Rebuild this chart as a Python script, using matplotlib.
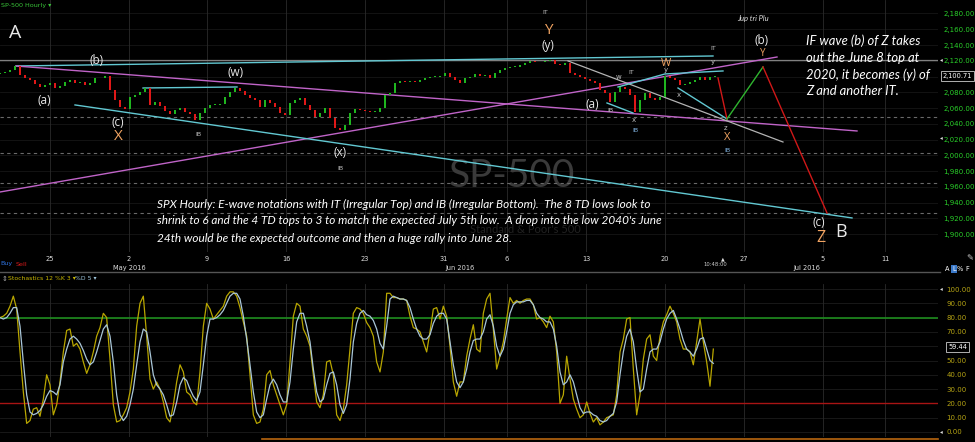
import numpy as np
import matplotlib
matplotlib.use("Agg")
import matplotlib.pyplot as plt
from matplotlib.lines import Line2D
import matplotlib.transforms as mtrans

plt.rcParams['font.family'] = ['DejaVu Sans']

# ---------------- data ----------------
first_open = 2103.0
closes = [2104.5, 2105.8, 2108.3, 2113.4, 2102.0, 2098.2, 2095.7, 2090.6, 2086.8, 2089.3,
          2091.9, 2085.5, 2088.1, 2093.1, 2095.7, 2091.9, 2093.1, 2089.3, 2091.9, 2098.2,
          2098.2, 2100.7, 2083.0, 2070.3, 2061.4, 2058.9, 2074.1, 2076.6, 2080.4, 2085.5,
          2064.0, 2067.8, 2062.7, 2056.4, 2052.5, 2057.6, 2060.2, 2055.1, 2052.5, 2044.9,
          2053.8, 2060.2, 2064.0, 2064.0, 2065.2, 2074.1, 2080.4, 2085.5, 2081.7, 2076.6,
          2072.8, 2070.3, 2061.4, 2070.3, 2066.5, 2061.4, 2053.8, 2051.3, 2066.5, 2070.3,
          2072.8, 2064.0, 2057.6, 2048.7, 2053.8, 2060.2, 2047.5, 2034.8, 2032.3, 2038.6,
          2053.8, 2058.9, 2057.6, 2056.4, 2055.1, 2055.1, 2060.2, 2076.6, 2079.2, 2091.9,
          2094.4, 2093.1, 2094.4, 2093.1, 2095.7, 2098.2, 2099.5, 2099.5, 2100.7, 2104.5,
          2099.5, 2095.7, 2091.9, 2098.2, 2099.5, 2103.3, 2100.7, 2102.0, 2098.2, 2104.5,
          2108.3, 2110.9, 2112.2, 2112.2, 2114.7, 2117.2, 2119.8, 2118.5, 2118.5, 2119.8,
          2121.0, 2116.0, 2114.7, 2117.2, 2104.5, 2102.0, 2099.5, 2096.9, 2094.4, 2091.9,
          2083.0, 2079.2, 2067.8, 2080.4, 2086.8, 2084.2, 2076.6, 2055.1, 2070.3, 2079.2,
          2072.8, 2070.3, 2074.1, 2100.7, 2098.2, 2095.7, 2089.3, 2090.6, 2093.1, 2095.7,
          2099.5, 2095.7, 2099.5, 2100.7]

stoch_k = [80, 81, 83, 88, 95, 86, 56, 28, 6, 8, 16, 17, 11, 23, 40, 33, 12, 19, 35, 56,
           71, 72, 60, 62, 58, 49, 41, 47, 56, 67, 73, 83, 80, 51, 19, 7, 8, 12, 17, 28,
           44, 74, 90, 95, 67, 37, 30, 35, 30, 21, 10, 7, 19, 35, 47, 42, 28, 26, 21, 19,
           42, 74, 90, 86, 79, 82, 85, 88, 95, 98, 98, 95, 87, 77, 67, 40, 12, 6, 7, 16,
           40, 43, 33, 26, 19, 12, 19, 49, 81, 90, 88, 72, 67, 60, 40, 21, 17, 26, 49, 50,
           40, 12, 8, 16, 33, 58, 83, 87, 86, 83,
           76.5, 73, 67, 49, 42, 56, 97, 97, 94, 94, 93, 93, 92, 81, 73, 72, 70, 63, 56, 70,
           86, 87, 79, 88, 81, 60, 35, 25, 35, 35, 53, 65, 75, 58, 56, 83, 93, 97, 72, 44,
           53, 63, 79, 94, 90, 92, 90, 92, 93, 93, 89, 79, 80, 77, 73, 81, 77, 56, 20, 26,
           53, 37, 23, 16, 10, 12, 21, 13, 7, 10, 5, 7, 10, 11, 12, 26, 56, 65, 79, 80,
           44, 12, 26, 51, 65, 68, 53, 50, 67, 77, 82, 88, 83, 77, 65, 58, 58, 56, 47, 63,
           79, 63, 49, 32, 58]

stoch_d = [80, 79, 80, 83, 87, 87, 74, 49, 26, 14, 12, 13, 15, 19, 25, 29, 28, 26, 33, 49,
           58, 65, 67, 65, 62, 57, 51, 47, 49, 56, 64, 72, 75, 67, 49, 26, 12, 8, 11, 19,
           30, 47, 63, 72, 70, 56, 40, 33, 30, 26, 19, 11, 12, 21, 33, 38, 36, 30, 25, 22,
           28, 47, 67, 79, 79, 80, 82, 85, 90, 95, 97, 97, 93, 81, 65, 47, 28, 14, 10, 12,
           23, 33, 37, 33, 26, 21, 21, 35, 58, 77, 83, 83, 74, 63, 44, 28, 21, 23, 33, 41,
           42, 33, 19, 13, 19, 37, 63, 76, 83, 85,
           82, 81, 78, 72, 62, 58, 74, 93, 95, 94, 93, 93, 92, 87, 79, 72, 67, 65, 65, 68,
           76, 81, 83, 83, 79, 63, 47, 35, 31, 35, 44, 56, 64, 65, 65, 70, 79, 82, 74, 60,
           53, 58, 70, 83, 89, 91, 91, 91, 92, 92, 89, 83, 80, 79, 77, 77, 72, 60, 42, 33,
           35, 40, 35, 26, 17, 13, 14, 14, 12, 11, 8, 7, 8, 11, 13, 21, 40, 56, 67, 72,
           63, 44, 28, 30, 44, 56, 58, 58, 63, 72, 79, 83, 85, 79, 72, 64, 58, 56, 53, 58,
           65, 66, 58, 50, 48]

price_ticks = list(range(1900, 2181, 20))
stoch_ticks = list(range(0, 101, 10))
day_labels = ["25", "2", "9", "16", "23", "31", "6", "13", "20", "27", "5", "11"]
month_labels = ["May 2016", "Jun 2016", "Jul 2016"]
pivot_levels = [2048.7, 2003.1, 1965.0, 1926.9]
june8_top = 2121.0
last_price = 2100.71
last_stoch = 59.44

# hand-drawn trend lines (bar index, price)
line_b_x, line_b_y = [3.2, 142.6], [2113.4, 2126.1]
mag_fall_x, mag_fall_y = [3.2, 171.4], [2113.4, 2031.0]
mag_rise_x, mag_rise_y = [0.0, 155.4], [1953.6, 2124.8]
cyan_low_x, cyan_low_y = [15.0, 170.4], [2064.0, 1920.7]
cyan_w_x, cyan_w_y = [28.6, 47.4], [2085.5, 2086.8]
gray_fall_x, gray_fall_y = [113.6, 156.6], [2119.8, 2017.0]
cyan_it_x, cyan_it_y = [123.6, 133.0, 144.6], [2086.8, 2103.3, 2107.1]
cyan_ib_x, cyan_ib_y = [121.4, 126.6], [2066.5, 2053.8]
cyan_xz_x, cyan_xz_y = [135.6, 145.4], [2085.5, 2046.2]
proj_red1_x, proj_red1_y = [143.6, 145.4], [2098.2, 2046.2]
proj_green_x, proj_green_y = [145.4, 152.6], [2046.2, 2112.2]
proj_red2_x, proj_red2_y = [152.6, 165.4], [2112.2, 1927.0]

# ---------------- layout ----------------
W, H = 975, 442
def fx(px): return px / W
def fy(py): return 1 - py / H

day_pos = [10, 25.8, 41.4, 57.2, 73, 88.8, 101.4, 117.2, 133, 148.8, 164.6, 177]
month_pos = [25.8, 92, 161.4]
XMAX = 187.6

fig = plt.figure(figsize=(9.75, 4.42), dpi=100, facecolor='black')

# ---------- main price panel ----------
ax = fig.add_axes([0, fy(252), 938 / W, 252 / H])
ax.set_facecolor('black')
ax.set_xlim(0, XMAX)
ax.set_ylim(1877.5, 2197.1)
for s in ax.spines.values():
    s.set_visible(False)

for p in price_ticks:
    ax.axhline(p, color='#161616', lw=0.6, zorder=0)
for xp in day_pos:
    ax.axvline(xp, color='#2a2a2a', lw=0.6, zorder=0)
for p in pivot_levels:
    ax.axhline(p, color='#6a6a6a', lw=0.8, ls=(0, (3, 3)), zorder=1)

# watermark
ax.text(fx(512), fy(176), 'SP-500', transform=fig.transFigure, ha='center', va='center',
        fontsize=28, color='#3a3a3a', family='Lato', zorder=0.5)
ax.text(fx(525), fy(229), "Standard & Poor's 500", transform=fig.transFigure, ha='center',
        va='center', fontsize=8, color='#222222', family='Lato', zorder=0.5)

# candles
c = np.array(closes)
o = np.array([first_open] + closes[:-1])
xb = np.arange(len(c))
h = c - o
h = np.where(np.abs(h) < 0.6, 0.6, h)
up = c >= o
ax.bar(xb[up], h[up], bottom=o[up], width=0.58, color='#1fb51f', lw=0, zorder=3)
ax.bar(xb[~up], h[~up], bottom=o[~up], width=0.58, color='#e01818', lw=0, zorder=3)

# trend lines
ax.axhline(june8_top, color='#808080', lw=0.9, zorder=2)
cyan = '#62c8d2'
mag = '#c064c8'
ax.plot(line_b_x, line_b_y, color=cyan, lw=1.0, zorder=2)
ax.plot(mag_fall_x, mag_fall_y, color=mag, lw=1.0, zorder=2)
ax.plot(mag_rise_x, mag_rise_y, color=mag, lw=1.0, zorder=2)
ax.plot(cyan_low_x, cyan_low_y, color=cyan, lw=1.0, zorder=2)
ax.plot(cyan_w_x, cyan_w_y, color=cyan, lw=1.0, zorder=2)
ax.plot(gray_fall_x, gray_fall_y, color='#b4b4b4', lw=0.9, zorder=2)
ax.plot(cyan_it_x, cyan_it_y, color=cyan, lw=1.0, zorder=2)
ax.plot(cyan_ib_x, cyan_ib_y, color=cyan, lw=1.0, zorder=2)
ax.plot(cyan_xz_x, cyan_xz_y, color=cyan, lw=1.0, zorder=2)
ax.plot(proj_red1_x, proj_red1_y, color='#d01818', lw=1.0, zorder=4)
ax.plot(proj_green_x, proj_green_y, color='#2fb52f', lw=1.0, zorder=4)
ax.plot(proj_red2_x, proj_red2_y, color='#d01818', lw=1.0, zorder=4)

# axes ticks (label under the last-price box is hidden, as in the reference)
ax.yaxis.tick_right()
ax.set_yticks(price_ticks)
ax.set_yticklabels(["" if abs(p - last_price) < 10 else f"{p:,.2f}" for p in price_ticks])
ax.tick_params(axis='y', colors='#2ad02a', labelsize=5, length=0, pad=4)
ax.set_xticks(day_pos)
ax.set_xticklabels(day_labels)
ax.tick_params(axis='x', colors='#dddddd', labelsize=4.8, length=0, pad=3)
for lbl, mp in zip(month_labels, month_pos):
    ax.text(mp, -0.064, lbl, transform=ax.get_xaxis_transform(), ha='center', va='center',
            fontsize=4.8, color='#dddddd')
bt = mtrans.blended_transform_factory(ax.transAxes, ax.transData)
ax.text(1 + 5 / 938, last_price, f"{last_price:,.2f}", transform=bt, fontsize=4.8,
        color='white', va='center', ha='left', zorder=10,
        bbox=dict(boxstyle='square,pad=0.25', fc='black', ec='#cccccc', lw=0.6))

# ---------- stochastic panel ----------
ax2 = fig.add_axes([0, fy(437), 938 / W, (437 - 284) / H])
ax2.set_facecolor('black')
ax2.set_xlim(0, XMAX)
ax2.set_ylim(-3.5, 103.5)
for s in ax2.spines.values():
    s.set_visible(False)
for v in stoch_ticks:
    ax2.axhline(v, color='#1c1c1c', lw=0.6, zorder=0)
for xp in day_pos:
    ax2.axvline(xp, color='#2a2a2a', lw=0.6, zorder=0)
ax2.axhline(80, color='#1e8c1e', lw=1.2, zorder=1)
ax2.axhline(20, color='#a81414', lw=1.0, zorder=1)
kx = np.arange(len(stoch_k)) * (2 / 3)
dx = np.arange(len(stoch_d)) * (2 / 3)
ax2.plot(kx, stoch_k, color='#b8a600', lw=0.9, zorder=3)
ax2.plot(dx, stoch_d, color='#a9c6d8', lw=0.9, zorder=4)
ax2.yaxis.tick_right()
ax2.set_yticks(stoch_ticks)
ax2.set_yticklabels(["" if abs(v - last_stoch) < 5 else f"{v:.2f}" for v in stoch_ticks])
ax2.tick_params(axis='y', colors='#b5a314', labelsize=5, length=0, pad=6)
ax2.set_xticks([])
bt2 = mtrans.blended_transform_factory(ax2.transAxes, ax2.transData)
ax2.text(1 + 10 / 938, last_stoch, f"{last_stoch:.2f}", transform=bt2, fontsize=4.8,
         color='white', va='center', ha='left', zorder=10,
         bbox=dict(boxstyle='square,pad=0.25', fc='black', ec='#cccccc', lw=0.6))

# ---------- annotation text ----------
def T(x, y, s, size=8.5, color='#e8e8e8', family='Open Sans', **kw):
    fig.text(fx(x), fy(y), s, ha=kw.pop('ha', 'center'), va=kw.pop('va', 'center'),
             fontsize=size, color=color, family=family, **kw)

ORANGE = '#f2a462'
SMALL = '#bdbdbd'
BLUEIB = '#7fb2e0'

T(1, 5, 'SP-500 Hourly \u25be', size=4.6, color='#39c439', family='DejaVu Sans', ha='left')
T(15, 33, 'A', size=14)
T(97, 60, '(b)')
T(44, 100, '(a)')
T(118, 123, '(c)')
T(118, 137, 'X', size=11, color=ORANGE)
T(198, 134, 'IB', size=4.5, color=SMALL, family='DejaVu Sans')
T(236, 73, '(w)')
T(340, 152, '(x)')
T(340, 168, 'IB', size=4.5, color=SMALL, family='DejaVu Sans')
T(545, 13, 'IT', size=4.5, color=SMALL, family='DejaVu Sans')
T(548, 31, 'Y', size=11, color=ORANGE)
T(548, 46, '(y)')
T(592, 104, '(a)')
T(610, 110, 'IB', size=4.5, color=SMALL, family='DejaVu Sans')
T(619, 77, 'w', size=5, color=SMALL, family='DejaVu Sans')
T(631, 72, 'IT', size=4.5, color=SMALL, family='DejaVu Sans')
T(634, 120, 'x', size=5, color=SMALL, family='DejaVu Sans')
T(635, 131, 'IB', size=4.5, color=BLUEIB, family='DejaVu Sans')
T(666, 63, 'W', size=8, color=ORANGE)
T(666, 70, 'y', size=5, color=SMALL, family='DejaVu Sans')
T(679, 95, 'x', size=5, color=SMALL, family='DejaVu Sans')
T(713, 49, 'IT', size=4.5, color=SMALL, family='DejaVu Sans')
T(713, 62, 'y', size=5, color=SMALL, family='DejaVu Sans')
T(726, 128, 'z', size=5, color=SMALL, family='DejaVu Sans')
T(727, 138, 'X', size=8, color=ORANGE)
T(727, 150, 'IB', size=4.5, color=BLUEIB, family='DejaVu Sans')
T(753, 18, 'Jup tri Plu', size=5.5, color='#dddddd', family='Lato', style='italic')
T(762, 41, '(b)')
T(763, 53, 'Y', size=7, color=ORANGE)
T(819, 223, '(c)')
T(821, 238, 'Z', size=11.5, color=ORANGE)
T(841, 232, 'B', size=13)

note_tr = ["IF wave (b) of Z takes", "out the June 8 top at",
           "2020, it becomes (y) of", "Z and another IT."]
for i, line in enumerate(note_tr):
    T(806, 41 + i * 16.7, line, size=9.4, color='white', family='Lato', style='italic', ha='left')

note_bot = ["SPX Hourly: E-wave notations with IT (Irregular Top) and IB (Irregular Bottom).  The 8 TD lows look to",
            "shrink to 6 and the 4 TD tops to 3 to match the expected July 5th low.  A drop into the low 2040's June",
            "24th would be the expected outcome and then a huge rally into June 28."]
for i, line in enumerate(note_bot):
    T(157, 204 + i * 17, line, size=8.5, color='white', family='Lato', style='italic', ha='left')

# chrome
T(0, 264, 'Buy', size=4.6, color='#2f73e0', family='DejaVu Sans', ha='left')
T(16, 264, 'Sell', size=4.6, color='#d81a1a', family='DejaVu Sans', ha='left')
T(723, 259, '\u25b2', size=3.5, color='#dddddd', family='DejaVu Sans')
T(715, 264, '10:48:00', size=3.8, color='#cccccc', family='DejaVu Sans')
T(2, 279, '\u21d5', size=5, color='#aaaaaa', family='DejaVu Sans', ha='left')
T(8, 279, 'Stochastics 12 %K 3 \u25be', size=4.4, color='#c9b800', family='DejaVu Sans', ha='left')
T(75, 279, '%D 5 \u25be', size=4.4, color='#9fc6dc', family='DejaVu Sans', ha='left')
for yy in (60, 138, 289, 432):
    T(941, yy, '\u25c2', size=4, color='#dddddd', family='DejaVu Sans')
T(947, 269, 'A', size=4.8, color='white', family='DejaVu Sans')
T(954, 269, 'L', size=4.8, color='white', family='DejaVu Sans',
  bbox=dict(boxstyle='square,pad=0.15', fc='#3a78c8', ec='none'))
T(960, 269, '%', size=4.8, color='white', family='DejaVu Sans')
T(967, 269, 'F', size=4.8, color='white', family='DejaVu Sans')
T(970, 258, '\u270e', size=6, color='#cccccc', family='DejaVu Sans')

fig.add_artist(Line2D([0, fx(940)], [fy(272), fy(272)], color='#555555', lw=1.0))
fig.add_artist(Line2D([fx(262), fx(938)], [fy(438.5), fy(438.5)], color='#b8650f', lw=1.2))

fig.savefig('out.png', dpi=100, facecolor='black')
